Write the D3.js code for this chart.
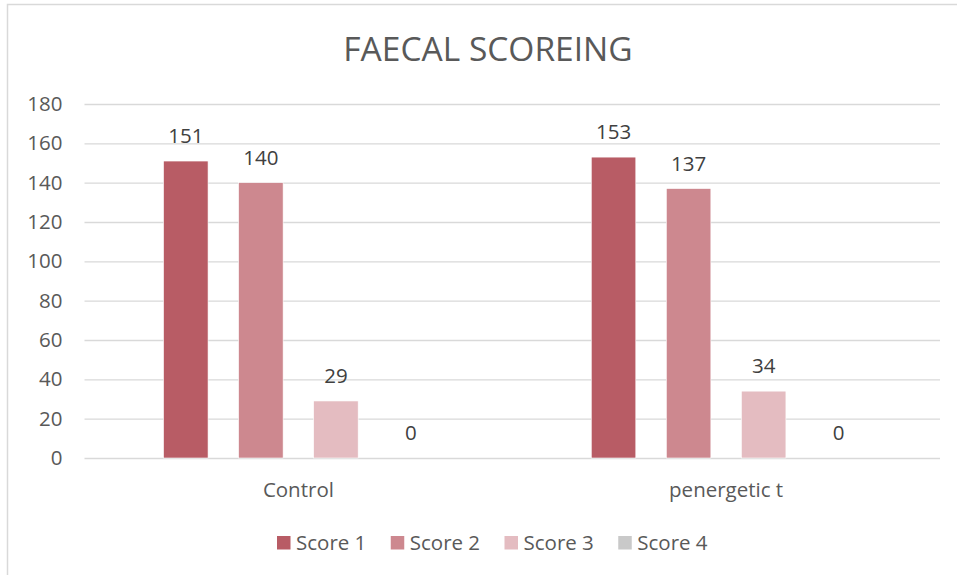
<!DOCTYPE html>
<html>
<head>
<meta charset="utf-8">
<script src="https://cdn.jsdelivr.net/npm/d3@7"></script>
<style>
  html, body { margin: 0; padding: 0; background: #fff; }
  svg { display: block; font-family: "Open Sans", "Noto Sans", sans-serif; }
</style>
</head>
<body>
<svg id="chart" width="957" height="575"></svg>
<script>
// Faecal scores counted per group
const categories = ["Control", "penergetic t"];
const seriesNames = ["Score 1", "Score 2", "Score 3", "Score 4"];
const score1 = [151, 153];
const score2 = [140, 137];
const score3 = [29, 34];
const score4 = [0, 0];
const yTicks = [0, 20, 40, 60, 80, 100, 120, 140, 160, 180];
const colors = ["#b85c65", "#cd888f", "#e4bcc1", "#c9c9c9"];

const seriesValues = [score1, score2, score3, score4];
const rows = categories.map((c, i) => ({
  category: c,
  values: seriesNames.map((s, j) => ({ series: s, value: seriesValues[j][i], color: colors[j] }))
}));

const svg = d3.select("#chart");
const textColor = "#595959";
const font = "\"Open Sans\", \"Noto Sans\", sans-serif";

// chart area frame
svg.append("rect")
  .attr("x", 7.5).attr("y", 4.5)
  .attr("width", 1000).attr("height", 1000)
  .attr("fill", "#fff")
  .attr("stroke", "#d9d9d9").attr("stroke-width", 1.5);

const plot = { left: 84.5, right: 940, top: 104, bottom: 458 };

const x0 = d3.scaleBand().domain(categories).range([plot.left, plot.right]).padding(0);
const x1 = d3.scaleBand().domain(seriesNames).range([0, x0.bandwidth()])
  .paddingInner(0.4067).paddingOuter(1.053);
const y = d3.scaleLinear().domain([0, 180]).range([plot.bottom, plot.top]);

// title
svg.append("text")
  .attr("x", 488).attr("y", 60.7)
  .attr("text-anchor", "middle")
  .attr("font-size", 33.5)
  .attr("fill", textColor)
  .text("FAECAL SCOREING");

// gridlines and value labels on the left
const yAxis = d3.axisLeft(y).tickValues(yTicks)
  .tickSize(-(plot.right - plot.left)).tickPadding(22).tickFormat(d3.format("d"));
const gy = svg.append("g").attr("transform", `translate(${plot.left},0)`).call(yAxis);
gy.select(".domain").remove();
gy.selectAll(".tick line").attr("stroke", "#d9d9d9").attr("stroke-width", 1.3);
gy.selectAll(".tick text").attr("font-size", 20.5).attr("fill", textColor)
  .attr("font-family", font);

// bars
const groups = svg.append("g").selectAll("g").data(rows).join("g")
  .attr("transform", d => `translate(${x0(d.category)},0)`);

groups.selectAll("rect").data(d => d.values).join("rect")
  .attr("x", d => x1(d.series))
  .attr("y", d => y(d.value))
  .attr("width", x1.bandwidth())
  .attr("height", d => y(0) - y(d.value))
  .attr("fill", d => d.color)
  .attr("stroke", "#fff").attr("stroke-width", 0.6);

groups.selectAll("text").data(d => d.values).join("text")
  .attr("x", d => x1(d.series) + x1.bandwidth() / 2)
  .attr("y", d => y(d.value) - 18)
  .attr("text-anchor", "middle")
  .attr("font-size", 20.5)
  .attr("fill", "#404040")
  .text(d => d.value);

// category axis labels
const xAxis = d3.axisBottom(x0).tickSize(0).tickPadding(24);
const gx = svg.append("g").attr("transform", `translate(0,${plot.bottom})`).call(xAxis);
gx.select(".domain").remove();
gx.selectAll(".tick text").attr("font-size", 20.5).attr("fill", textColor)
  .attr("font-family", font);

// legend
const legendX = d3.scaleBand().domain(seriesNames).range([277, 732]);
const legend = svg.append("g").selectAll("g").data(seriesNames).join("g")
  .attr("transform", d => `translate(${legendX(d)},536)`);
legend.append("rect")
  .attr("width", 13.5).attr("height", 13.5)
  .attr("fill", (d, i) => colors[i]);
legend.append("text")
  .attr("x", 19).attr("y", 14)
  .attr("font-size", 20.5)
  .attr("fill", textColor)
  .text(d => d);
</script>
</body>
</html>
